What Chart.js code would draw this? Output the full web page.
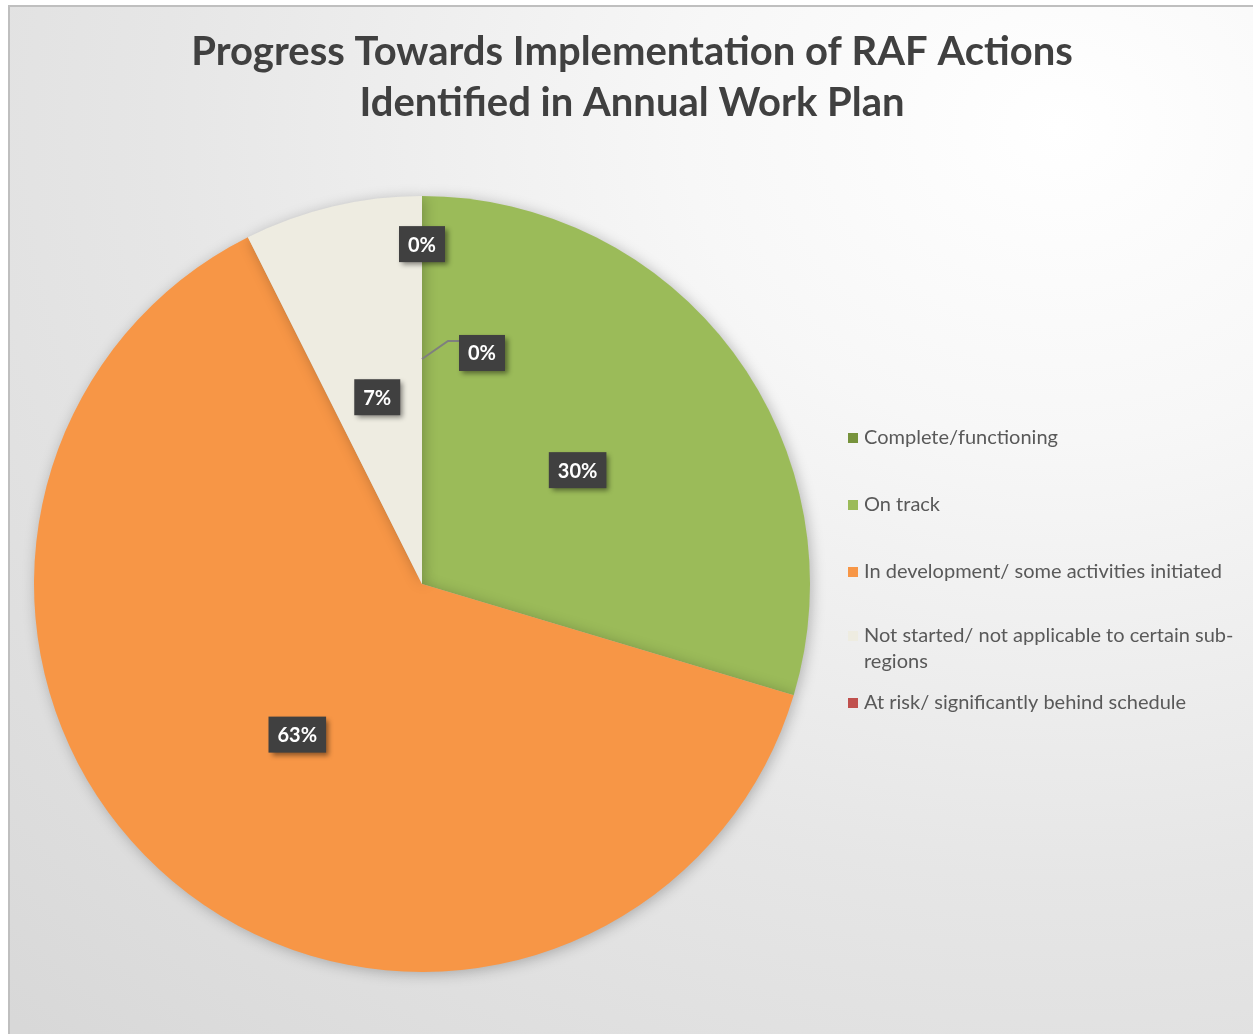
<!DOCTYPE html>
<html>
<head>
<meta charset="utf-8">
<script src="https://cdn.jsdelivr.net/npm/chart.js@4.4.1/dist/chart.umd.min.js"></script>
<style>
  html, body { margin: 0; padding: 0; background: #ffffff; }
  #wrap {
    position: absolute; left: 8px; top: 5px; width: 1260px; height: 1040px;
    border-left: 2px solid #bfbfbf; border-top: 2px solid #bfbfbf;
    background: radial-gradient(ellipse 1500px 1250px at 1050px 120px, #ffffff 0%, #f7f7f7 25%, #e6e6e6 60%, #d8d8d8 100%);
  }
  canvas { position: absolute; left: 0; top: 0; }
</style>
</head>
<body>
<div id="wrap"></div>
<canvas id="grafico" width="1253" height="1034"></canvas>
<script>
const categorias = [
    'Complete/functioning',
    'On track',
    'In development/ some activities initiated',
    'Not started/ not applicable to certain sub-regions',
    'At risk/ significantly behind schedule'
];
const legendaLinhas = [
    ['Complete/functioning'],
    ['On track'],
    ['In development/ some activities initiated'],
    ['Not started/ not applicable to certain sub-', 'regions'],
    ['At risk/ significantly behind schedule']
];
const valores = [0, 8, 17, 2, 0];
const cores = ['#77933c', '#9bbb59', '#f79646', '#eeece1', '#c0504d'];
const titulo = ['Progress Towards Implementation of RAF Actions', 'Identified in Annual Work Plan'];

// rótulos de fatias com valor zero: posição relativa ao raio
const rotulosZero = {
    0: { dist: 0.876 },
    4: { dist: 0.58, leader: true }
};

document.addEventListener('DOMContentLoaded', function () {
    const ctx = document.getElementById('grafico');
    const total = valores.reduce((a, b) => a + b, 0);

    const sombraPizza = {
        id: 'sombraPizza',
        beforeDatasetsDraw(chart) {
            const c = chart.ctx;
            c.save();
            c.shadowColor = 'rgba(0,0,0,0.25)';
            c.shadowBlur = 14;
            c.shadowOffsetX = 2;
            c.shadowOffsetY = 2;
        },
        afterDatasetsDraw(chart) {
            chart.ctx.restore();
        }
    };

    const rotulos = {
        id: 'rotulos',
        afterDatasetsDraw(chart) {
            const c = chart.ctx;
            const meta = chart.getDatasetMeta(0);
            c.save();
            c.font = 'bold 20px Lato';
            c.textAlign = 'center';
            c.textBaseline = 'middle';
            meta.data.forEach(function (arc, i) {
                const v = valores[i];
                const txt = Math.round(v / total * 100) + '%';
                const r = arc.outerRadius;
                const ang = (arc.startAngle + arc.endAngle) / 2;
                const zero = rotulosZero[i];
                const dist = (v === 0 && zero) ? zero.dist : 0.5;
                let x = arc.x + Math.cos(ang) * r * dist;
                let y = arc.y + Math.sin(ang) * r * dist;
                if (v === 0 && zero && zero.leader) {
                    c.strokeStyle = '#7f7f7f';
                    c.lineWidth = 2;
                    c.beginPath();
                    c.moveTo(x, y);
                    c.lineTo(x + 26, y - 18);
                    c.lineTo(x + 40, y - 18);
                    c.stroke();
                    x = x + 60;
                    y = y - 6;
                } else if (v !== 0) {
                    y += 2;
                }
                const w = c.measureText(txt).width + 18;
                const h = 36;
                c.shadowColor = 'rgba(0,0,0,0.45)';
                c.shadowBlur = 5;
                c.shadowOffsetX = 3;
                c.shadowOffsetY = 3;
                c.fillStyle = '#404040';
                c.fillRect(x - w / 2, y - h / 2, w, h);
                c.shadowColor = 'transparent';
                c.fillStyle = '#ffffff';
                c.fillText(txt, x, y + 1);
            });
            c.restore();
        }
    };

    const tituloELegenda = {
        id: 'tituloELegenda',
        afterDraw(chart) {
            const c = chart.ctx;
            c.save();
            c.fillStyle = '#404040';
            c.font = 'bold 40px Lato';
            c.textAlign = 'center';
            c.textBaseline = 'middle';
            c.fillText(titulo[0], 632, 52);
            c.fillText(titulo[1], 632, 103);

            c.font = '20px Lato';
            c.textAlign = 'left';
            const ys = [438, 505, 572, 636, 703];
            legendaLinhas.forEach(function (linhas, i) {
                c.fillStyle = cores[i];
                c.fillRect(848, ys[i] - 5, 10, 10);
                c.fillStyle = '#595959';
                linhas.forEach(function (l, k) {
                    c.fillText(l, 864, ys[i] + k * 26);
                });
            });
            c.restore();
        }
    };

    new Chart(ctx, {
        type: 'pie',
        data: {
            labels: categorias,
            datasets: [{
                data: valores,
                backgroundColor: cores,
                borderWidth: 0
            }]
        },
        options: {
            responsive: false,
            animation: false,
            layout: {
                padding: { left: 34, top: 196, right: 443, bottom: 62 }
            },
            plugins: {
                legend: { display: false },
                title: { display: false },
                tooltip: { enabled: false }
            }
        },
        plugins: [sombraPizza, rotulos, tituloELegenda]
    });
});
</script>
</body>
</html>
